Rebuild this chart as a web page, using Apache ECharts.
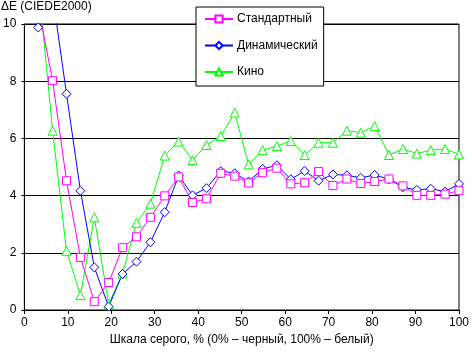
<!DOCTYPE html>
<html>
<head>
<meta charset="utf-8">
<script src="https://cdn.jsdelivr.net/npm/echarts@6/dist/echarts.min.js"></script>
<style>
    html, body { margin: 0; padding: 0; background: #fff; }
    #chart { width: 472px; height: 353px; }
</style>
</head>
<body>
<div id="chart"></div>
<script>
// уровни серого, %
var grayLevels = [0, 3.2, 6.5, 9.7, 12.9, 16.1, 19.4, 22.6, 25.8, 29.0, 32.3, 35.5, 38.7, 41.9, 45.2, 48.4,
    51.6, 54.8, 58.1, 61.3, 64.5, 67.7, 71.0, 74.2, 77.4, 80.6, 83.9, 87.1, 90.3, 93.5, 96.8, 100];

var standardDE = [14, 10.6, 8.02, 4.52, 1.84, 0.29, 0.96, 2.18, 2.56, 3.24, 3.99, 4.65, 3.76, 3.89, 4.78, 4.68,
    4.44, 4.80, 4.96, 4.41, 4.45, 4.84, 4.35, 4.58, 4.42, 4.49, 4.58, 4.34, 4.01, 4.01, 4.05, 4.17];

var dynamicDE = [12.5, 9.88, 11.0, 7.56, 4.17, 1.49, 0.12, 1.26, 1.69, 2.37, 3.42, 4.70, 4.01, 4.26, 4.86, 4.78,
    4.49, 4.93, 5.06, 4.57, 4.86, 4.52, 4.74, 4.71, 4.62, 4.72, 4.57, 4.29, 4.20, 4.24, 4.14, 4.41];

var cinemaDE = [15, 11.5, 6.27, 2.07, 0.52, 3.24, 0.21, 1.28, 3.05, 3.72, 5.40, 5.89, 5.24, 5.77, 6.08, 6.90,
    5.09, 5.59, 5.73, 5.91, 5.42, 5.85, 5.85, 6.27, 6.20, 6.43, 5.42, 5.63, 5.47, 5.59, 5.63, 5.44];

var xTicks = [0, 10, 20, 30, 40, 50, 60, 70, 80, 90, 100];
var yTicks = [0, 2, 4, 6, 8, 10];

var font = '"Liberation Sans", Arial, sans-serif';

function pairs(values) {
    return grayLevels.map(function (x, i) { return [x, values[i]]; });
}

function lineSeries(name, color, symbol, size, values) {
    return {
        name: name,
        type: 'line',
        data: pairs(values),
        symbol: symbol,
        symbolSize: size,
        clip: true,
        lineStyle: { color: color, width: 1 },
        itemStyle: { color: '#fff', borderColor: color, borderWidth: 1 },
        animation: false
    };
}

var option = {
    animation: false,
    textStyle: { fontFamily: font, fontSize: 12, color: '#000' },
    title: {
        text: 'ΔE (CIEDE2000)',
        left: -4,
        top: -4,
        textStyle: { fontFamily: font, fontSize: 12, fontWeight: 'normal', color: '#000' }
    },
    grid: {
        left: 23, right: 10, top: 24, bottom: 43,
        show: true, borderColor: '#000', borderWidth: 1, backgroundColor: 'transparent'
    },
    legend: {
        orient: 'vertical',
        left: 196,
        top: 7,
        padding: [6, 6, 8, 8],
        itemGap: 14.5,
        itemWidth: 28,
        itemHeight: 9,
        backgroundColor: '#fff',
        borderColor: '#000',
        borderWidth: 1,
        borderRadius: 0,
        textStyle: { fontFamily: font, fontSize: 12, color: '#000', padding: [0, 0, 0, -1] },
        data: ['Стандартный', 'Динамический', 'Кино']
    },
    xAxis: {
        type: 'value',
        min: xTicks[0],
        max: xTicks[xTicks.length - 1],
        interval: 10,
        name: 'Шкала серого, % (0% – черный, 100% – белый)',
        nameLocation: 'middle',
        nameGap: 21,
        nameTextStyle: { fontFamily: font, fontSize: 12, color: '#000' },
        axisLine: { lineStyle: { color: '#000', width: 1 } },
        axisTick: { show: true, length: 4, lineStyle: { color: '#000' } },
        axisLabel: { color: '#000', fontSize: 12, fontFamily: font, margin: 7 },
        splitLine: { show: false }
    },
    yAxis: {
        type: 'value',
        min: yTicks[0],
        max: yTicks[yTicks.length - 1],
        interval: 2,
        axisLine: { show: true, lineStyle: { color: '#000', width: 1 } },
        axisTick: { show: true, length: 3, lineStyle: { color: '#000' } },
        axisLabel: { color: '#000', fontSize: 12, fontFamily: font, margin: 8 },
        splitLine: { show: true, lineStyle: { color: '#000', width: 1 } }
    },
    series: [
        lineSeries('Кино', '#00ff00', 'triangle', 9, cinemaDE),
        lineSeries('Динамический', '#0000ff', 'diamond', 9, dynamicDE),
        lineSeries('Стандартный', '#ff00ff', 'rect', 8, standardDE)
    ]
};

echarts.init(document.getElementById('chart'), null, { renderer: 'canvas' }).setOption(option);
</script>
</body>
</html>
